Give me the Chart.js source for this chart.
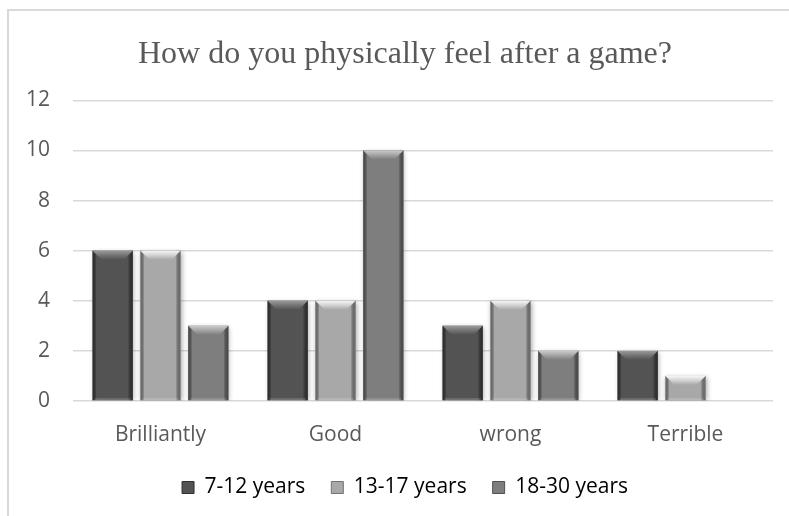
<!DOCTYPE html>
<html>
<head>
<meta charset="utf-8">
<script src="https://cdn.jsdelivr.net/npm/chart.js@4"></script>
<style>
    html, body { margin: 0; padding: 0; background: #fff; overflow: hidden; }
    #frame {
        position: absolute; left: 7px; top: 9px;
        width: 800px; height: 520px;
        border-left: 2px solid #d9d9d9; border-top: 2px solid #d9d9d9;
    }
    #feelChart { display: block; }
</style>
</head>
<body>
<div id="frame"><canvas id="feelChart" width="800" height="507"></canvas></div>
<script>
const categories = ['Brilliantly', 'Good', 'wrong', 'Terrible'];
const seriesNames = ['7-12 years', '13-17 years', '18-30 years'];
const kids = [6, 4, 3, 2];
const teens = [6, 4, 4, 1];
const adults = [3, 10, 2, 0];
const yTicks = [0, 2, 4, 6, 8, 10, 12];

// base, bevel-top highlight, edge shade
const barColors = [
    { fill: '#535353', light: '#9a9a9a', mid: '#747474', edge: '#303030' },
    { fill: '#a8a8a8', light: '#f6f6f6', mid: '#d2d2d2', edge: '#747474' },
    { fill: '#7e7e7e', light: '#cacaca', mid: '#a4a4a4', edge: '#505050' }
];

const axisFont = { family: "'Open Sans'", size: 21 };

const bevelPlugin = {
    id: 'bevel',
    afterLayout(chart) {
        // labels are clipped to their axis box; widen the boxes so nothing gets cut
        chart.scales.y.left = 0;
        chart.scales.x.bottom = chart.height;
    },
    beforeDatasetsDraw(chart) {
        const ctx = chart.ctx;
        ctx.save();
        ctx.shadowColor = 'rgba(0,0,0,0.35)';
        ctx.shadowBlur = 5;
        ctx.shadowOffsetX = 1;
        ctx.shadowOffsetY = 1;
    },
    afterDatasetsDraw(chart) {
        const ctx = chart.ctx;
        ctx.restore();
        chart.data.datasets.forEach((ds, i) => {
            const meta = chart.getDatasetMeta(i);
            const c = barColors[i];
            meta.data.forEach(bar => {
                const p = bar.getProps(['x', 'y', 'base', 'width'], true);
                const h = p.base - p.y;
                if (h < 1) return;
                const l = p.x - p.width / 2, r = p.x + p.width / 2;
                const b = Math.min(9, h / 2);
                ctx.save();
                // side shading
                const gl = ctx.createLinearGradient(l, 0, l + 4, 0);
                gl.addColorStop(0, c.edge);
                gl.addColorStop(1, 'rgba(0,0,0,0)');
                ctx.fillStyle = gl;
                ctx.fillRect(l, p.y, 4, h);
                const gr = ctx.createLinearGradient(r - 5, 0, r, 0);
                gr.addColorStop(0, 'rgba(0,0,0,0)');
                gr.addColorStop(1, c.edge);
                ctx.fillStyle = gr;
                ctx.fillRect(r - 5, p.y, 5, h);
                // top bevel
                const g = ctx.createLinearGradient(0, p.y, 0, p.y + b);
                g.addColorStop(0, c.light);
                g.addColorStop(0.5, c.mid);
                g.addColorStop(1, c.fill);
                ctx.fillStyle = g;
                ctx.beginPath();
                ctx.moveTo(l, p.y);
                ctx.lineTo(r, p.y);
                ctx.lineTo(r - b, p.y + b);
                ctx.lineTo(l + b, p.y + b);
                ctx.closePath();
                ctx.fill();
                // thin bottom lip
                ctx.fillStyle = 'rgba(255,255,255,0.18)';
                ctx.fillRect(l + 2, p.base - 2, p.width - 4, 2);
                ctx.restore();
            });
        });
    }
};

new Chart(document.getElementById('feelChart'), {
    type: 'bar',
    data: {
        labels: categories,
        datasets: [kids, teens, adults].map((vals, i) => ({
            label: seriesNames[i],
            data: vals,
            backgroundColor: barColors[i].fill,
            borderWidth: 0,
            categoryPercentage: 0.82,
            barPercentage: 0.84
        }))
    },
    options: {
        responsive: false,
        animation: false,
        layout: { padding: { left: 28, right: 36, top: 0, bottom: 10 } },
        scales: {
            x: {
                grid: { display: false },
                border: { display: false },
                ticks: { color: '#595959', font: axisFont, padding: 13 },
                afterFit: axis => { axis.paddingLeft = 0; axis.paddingRight = 0; axis.height = 50; }
            },
            y: {
                min: 0, max: 12,
                afterBuildTicks: axis => { axis.ticks = yTicks.map(v => ({ value: v })); },
                afterFit: axis => { axis.width = 36; },
                grid: { color: '#d9d9d9', lineWidth: 1.5, drawTicks: false },
                border: { display: false },
                ticks: { color: '#595959', font: axisFont, padding: 23 }
            }
        },
        plugins: {
            title: {
                display: true,
                text: 'How do you physically feel after a game?',
                color: '#595959',
                font: { family: "'Liberation Serif', serif", size: 32, weight: 'normal' },
                padding: { top: 24, bottom: 27 }
            },
            legend: {
                position: 'bottom',
                labels: {
                    color: '#595959',
                    font: axisFont,
                    boxWidth: 12, boxHeight: 12,
                    padding: 26,
                    generateLabels: chart => chart.data.datasets.map((ds, i) => ({
                        text: ds.label,
                        fillStyle: barColors[i].fill,
                        strokeStyle: barColors[i].edge,
                        lineWidth: 1,
                        datasetIndex: i
                    }))
                }
            },
            tooltip: { enabled: false }
        }
    },
    plugins: [bevelPlugin]
});
</script>
</body>
</html>
